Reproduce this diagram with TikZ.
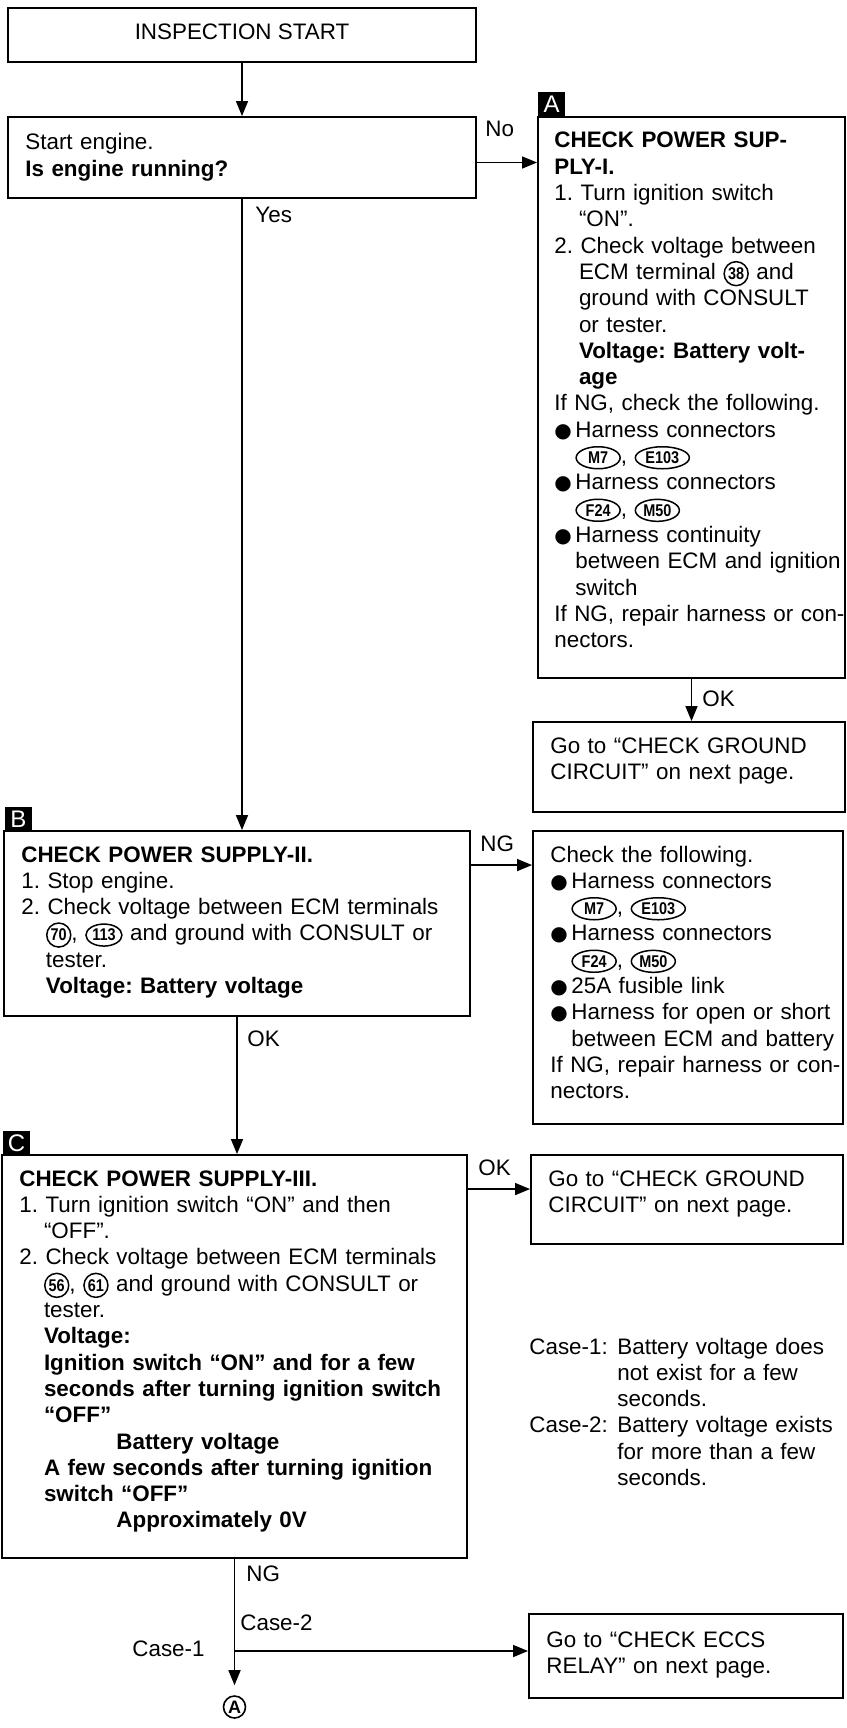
\documentclass[tikz,border=0pt]{standalone}
\usepackage{fontspec}
\setmainfont{Liberation Sans}
\newfontfamily\symfont{DejaVu Sans}
\newfontfamily\condfont[FakeStretch=0.85]{Liberation Sans}
\usetikzlibrary{arrows.meta,fit,shapes.geometric,calc}

\newcount\cncnt
\newcommand\cnum[1]{\global\advance\cncnt by 1\relax\tikz[baseline=(cn\the\cncnt.base)]\node[draw,circle,line width=0.75pt,inner sep=0pt,minimum size=12pt,font=\condfont\bfseries\fontsize{8.5}{8.5}\selectfont] (cn\the\cncnt) {#1};}
\newcommand\cconn[2]{\global\advance\cncnt by 1\relax\tikz[baseline=(cn\the\cncnt.base)]\node[draw,ellipse,line width=0.75pt,inner sep=0pt,minimum width=#1,minimum height=11pt,font=\condfont\bfseries\fontsize{8.5}{8.5}\selectfont] (cn\the\cncnt) {#2};}
\newcommand\bul{\makebox[10.5pt][l]{\symfont\fontsize{10}{10}\selectfont ●}}
\newcommand\bind{\hspace*{10.5pt}}
\newcommand\ind{\hspace*{12.3pt}}

\begin{document}
\begin{tikzpicture}[x=0.5pt,y=-0.5pt,
  box/.style={draw,line width=0.95pt,inner sep=0pt},
  lab/.style={fill=black,inner sep=0pt,text=white,minimum width=13.5pt,minimum height=12.5pt,font=\fontsize{12}{12}\selectfont},
  txt/.style={anchor=base west,inner sep=0pt,align=left,font=\fontsize{11.2}{13.15}\selectfont\frenchspacing,execute at begin node={\lineskiplimit=-100pt\relax}},
  lbl/.style={inner sep=0pt,font=\fontsize{11.2}{13.15}\selectfont},
  arr/.style={-{Triangle[length=7.5pt,width=6pt]},line width=0.8pt}]
\fill[white] (0,0) rectangle (846,1728);
\path[use as bounding box] (0,0) rectangle (846,1728);

% boxes
\node[box,fit={(8,8) (476,62)}] (start) {};
\node[box,fit={(8,117) (476,198)}] (q) {};
\node[box,fit={(538,117) (845,678)}] (A) {};
\node[box,fit={(533,722) (845,812)}] (G1) {};
\node[box,fit={(4,831) (470,1016)}] (B) {};
\node[box,fit={(533,831) (843,1124)}] (chk) {};
\node[box,fit={(2,1155) (467,1558)}] (C) {};
\node[box,fit={(531,1155) (843,1244)}] (G2) {};
\node[box,fit={(529,1614) (843,1698)}] (E) {};

% letter tags
\node[lab] (labA) at (551.5,104.5) {A};
\node[lab] (labB) at (18.5,819) {B};
\node[lab] (labC) at (16.5,1143) {C};

% texts
\node[lbl,anchor=base] (tstart) at (242,40) {INSPECTION START};
\node[txt,text width=220pt] (tq) at (25,150) {Start engine.\\\textbf{Is engine running?}};

\node[txt,text width=200pt] (tA) at (554,148) {\textbf{CHECK POWER SUP-}\\
\textbf{PLY-I.}\\
1. Turn ignition switch\\
\ind “ON”.\\
2. Check voltage between\\
\ind ECM terminal \cnum{38} and\\
\ind ground with CONSULT\\
\ind or tester.\\
\ind\textbf{Voltage: Battery volt-}\\
\ind\textbf{age}\\
If NG, check the following.\\
\bul Harness connectors\\
\bind\cconn{22pt}{M7}, \cconn{27pt}{E103}\\
\bul Harness connectors\\
\bind\cconn{22pt}{F24}, \cconn{22pt}{M50}\\
\bul Harness continuity\\
\bind between ECM and ignition\\
\bind switch\\
If NG, repair harness or con-\\
nectors.};

\node[txt,text width=200pt] (tG1) at (550,753) {Go to “CHECK GROUND\\CIRCUIT” on next page.};

\node[txt,text width=260pt] (tB) at (21,862) {\textbf{CHECK POWER SUPPLY-II.}\\
1. Stop engine.\\
2. Check voltage between ECM terminals\\
\ind\cnum{70}, \cconn{18pt}{113} and ground with CONSULT or\\
\ind tester.\\
\ind\textbf{Voltage: Battery voltage}};

\node[txt,text width=200pt] (tchk) at (550,862) {Check the following.\\
\bul Harness connectors\\
\bind\cconn{22pt}{M7}, \cconn{27pt}{E103}\\
\bul Harness connectors\\
\bind\cconn{22pt}{F24}, \cconn{22pt}{M50}\\
\bul 25A fusible link\\
\bul Harness for open or short\\
\bind between ECM and battery\\
If NG, repair harness or con-\\
nectors.};

\node[txt,text width=260pt] (tC) at (19,1186) {\textbf{CHECK POWER SUPPLY-III.}\\
1. Turn ignition switch “ON” and then\\
\ind “OFF”.\\
2. Check voltage between ECM terminals\\
\ind\cnum{56}, \cnum{61} and ground with CONSULT or\\
\ind tester.\\
\ind\textbf{Voltage:}\\
\ind\textbf{Ignition switch “ON” and for a few}\\
\ind\textbf{seconds after turning ignition switch}\\
\ind\textbf{“OFF”}\\
\hspace*{48.5pt}\textbf{Battery voltage}\\
\ind\textbf{A few seconds after turning ignition}\\
\ind\textbf{switch “OFF”}\\
\hspace*{48.5pt}\textbf{Approximately 0V}};

\node[txt,text width=200pt] (tG2) at (548,1186) {Go to “CHECK GROUND\\CIRCUIT” on next page.};

\node[txt,text width=200pt] (tcase) at (529,1354) {\makebox[44pt][l]{Case-1:}Battery voltage does\\
\hspace*{44pt}not exist for a few\\
\hspace*{44pt}seconds.\\
\makebox[44pt][l]{Case-2:}Battery voltage exists\\
\hspace*{44pt}for more than a few\\
\hspace*{44pt}seconds.};

\node[txt,text width=200pt] (tE) at (546,1647) {Go to “CHECK ECCS\\RELAY” on next page.};

% end circle
\node[draw,circle,line width=0.8pt,inner sep=0pt,minimum size=11pt,font=\bfseries\fontsize{9}{9}\selectfont] (endA) at (234.5,1707) {A};

% connectors
\draw[arr] (start.south) -- (q.north);
\draw[arr] ([yshift=-2.5pt]q.east) -- ([yshift=-2.5pt]q.east -| A.west);
\draw[arr] (A.south) -- (A.south |- G1.north);
\draw[arr] (q.south) -- (q.south |- B.north);
\draw[arr] ([yshift=-17.5pt]B.north east) -- ([yshift=-17.5pt]chk.north west);
\draw[arr] (B.south) -- (B.south |- C.north);
\draw[arr] ([yshift=-17.5pt]C.north east) -- ([yshift=-17.5pt]G2.north west);
\coordinate (br) at ([yshift=2.5pt]C.south |- E.west);
\draw[arr] (C.south) -- ([yshift=5pt]endA.north);
\draw[arr] (br) -- (br -| E.west);

% connector labels
\node[lbl,anchor=base west] (lyes) at (255,223) {Yes};
\node[lbl,anchor=base west] (lno) at (485,137) {No};
\node[lbl,anchor=base west] (lok1) at (702,706) {OK};
\node[lbl,anchor=base west] (lng1) at (480,851) {NG};
\node[lbl,anchor=base west] (lok2) at (247,1046) {OK};
\node[lbl,anchor=base west] (lok3) at (478,1175) {OK};
\node[lbl,anchor=base west] (lng2) at (246,1581) {NG};
\node[lbl,anchor=base west] (lc2) at (240,1630) {Case-2};
\node[lbl,anchor=base east] (lc1) at (205,1656) {Case-1};
\end{tikzpicture}
\end{document}
